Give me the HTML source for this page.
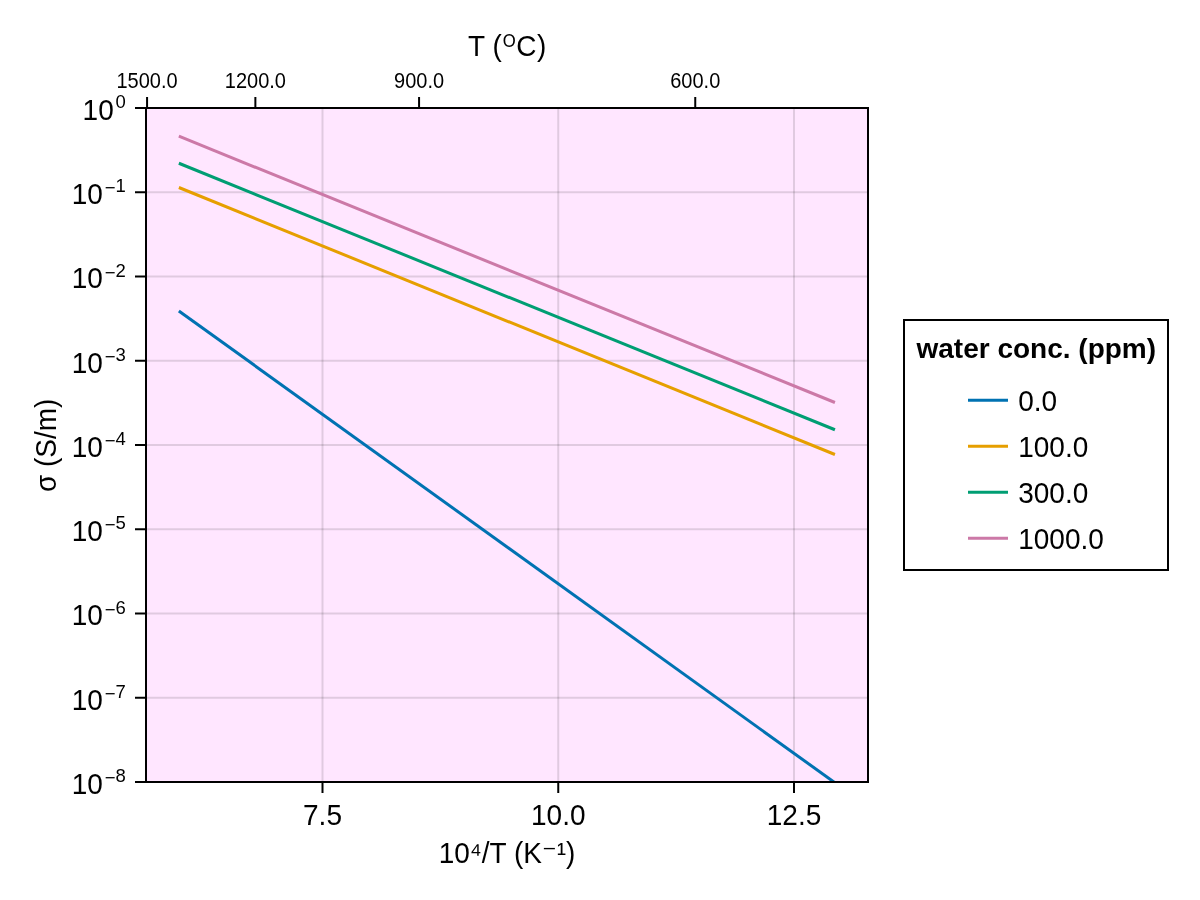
<!DOCTYPE html>
<html lang="en"><head><meta charset="utf-8"><title>conductivity</title>
<style>html,body{margin:0;padding:0;background:#fff}svg{display:block}text{font-family:"Liberation Sans","DejaVu Sans",sans-serif;fill:#000}</style>
</head><body>
<svg width="1200" height="900" viewBox="0 0 1200 900">
<rect x="0" y="0" width="1200" height="900" fill="#ffffff"/>
<rect x="146" y="108" width="722" height="674" fill="#ffe6ff"/>
<defs><clipPath id="c"><rect x="146" y="108" width="722" height="674"/></clipPath></defs>
<g stroke="#000" stroke-opacity="0.12" stroke-width="2" fill="none">
<line x1="322.50" y1="108" x2="322.50" y2="782"/>
<line x1="558.25" y1="108" x2="558.25" y2="782"/>
<line x1="794.00" y1="108" x2="794.00" y2="782"/>
<line x1="146" y1="108.00" x2="868" y2="108.00"/>
<line x1="146" y1="192.25" x2="868" y2="192.25"/>
<line x1="146" y1="276.50" x2="868" y2="276.50"/>
<line x1="146" y1="360.75" x2="868" y2="360.75"/>
<line x1="146" y1="445.00" x2="868" y2="445.00"/>
<line x1="146" y1="529.25" x2="868" y2="529.25"/>
<line x1="146" y1="613.50" x2="868" y2="613.50"/>
<line x1="146" y1="697.75" x2="868" y2="697.75"/>
<line x1="146" y1="782.00" x2="868" y2="782.00"/>
</g>
<g clip-path="url(#c)" fill="none" stroke-width="3" stroke-linecap="butt">
<line x1="178.86" y1="311.0" x2="834.94" y2="782.75" stroke="#0072b2"/>
<line x1="178.86" y1="187.5" x2="834.94" y2="454.5" stroke="#e69f00"/>
<line x1="178.86" y1="163.25" x2="834.94" y2="429.75" stroke="#009e73"/>
<line x1="178.86" y1="136.2" x2="834.94" y2="402.5" stroke="#cc79a7"/>
</g>
<rect x="146" y="108" width="722" height="674" fill="none" stroke="#000" stroke-width="2"/>
<g stroke="#000" stroke-width="2" fill="none">
<line x1="322.50" y1="783" x2="322.50" y2="793"/>
<line x1="558.25" y1="783" x2="558.25" y2="793"/>
<line x1="794.00" y1="783" x2="794.00" y2="793"/>
<line x1="135" y1="108.00" x2="145" y2="108.00"/>
<line x1="135" y1="192.25" x2="145" y2="192.25"/>
<line x1="135" y1="276.50" x2="145" y2="276.50"/>
<line x1="135" y1="360.75" x2="145" y2="360.75"/>
<line x1="135" y1="445.00" x2="145" y2="445.00"/>
<line x1="135" y1="529.25" x2="145" y2="529.25"/>
<line x1="135" y1="613.50" x2="145" y2="613.50"/>
<line x1="135" y1="697.75" x2="145" y2="697.75"/>
<line x1="135" y1="782.00" x2="145" y2="782.00"/>
<line x1="147.07" y1="97" x2="147.07" y2="107"/>
<line x1="255.37" y1="97" x2="255.37" y2="107"/>
<line x1="419.07" y1="97" x2="419.07" y2="107"/>
<line x1="695.25" y1="97" x2="695.25" y2="107"/>
</g>
<text transform="translate(322.50 824.80) scale(1 1.05)" font-size="28" text-anchor="middle">7.5</text>
<text transform="translate(558.25 824.80) scale(1 1.05)" font-size="28" text-anchor="middle">10.0</text>
<text transform="translate(794.00 824.80) scale(1 1.05)" font-size="28" text-anchor="middle">12.5</text>
<text transform="translate(147.07 87.80) scale(1 1.065)" font-size="20" text-anchor="middle">1500.0</text>
<text transform="translate(255.37 87.80) scale(1 1.065)" font-size="20" text-anchor="middle">1200.0</text>
<text transform="translate(419.07 87.80) scale(1 1.065)" font-size="20" text-anchor="middle">900.0</text>
<text transform="translate(695.25 87.80) scale(1 1.065)" font-size="20" text-anchor="middle">600.0</text>
<text transform="translate(113.70 119.90) scale(1 1.05)" font-size="28" text-anchor="end">10</text>
<text transform="translate(125.80 108.00)" font-size="18.5" text-anchor="end">0</text>
<text transform="translate(102.90 204.15) scale(1 1.05)" font-size="28" text-anchor="end">10</text>
<text transform="translate(125.80 192.25)" font-size="18.5" text-anchor="end"><tspan dy="2">−</tspan><tspan dy="-2">1</tspan></text>
<text transform="translate(102.90 288.40) scale(1 1.05)" font-size="28" text-anchor="end">10</text>
<text transform="translate(125.80 276.50)" font-size="18.5" text-anchor="end"><tspan dy="2">−</tspan><tspan dy="-2">2</tspan></text>
<text transform="translate(102.90 372.65) scale(1 1.05)" font-size="28" text-anchor="end">10</text>
<text transform="translate(125.80 360.75)" font-size="18.5" text-anchor="end"><tspan dy="2">−</tspan><tspan dy="-2">3</tspan></text>
<text transform="translate(102.90 456.90) scale(1 1.05)" font-size="28" text-anchor="end">10</text>
<text transform="translate(125.80 445.00)" font-size="18.5" text-anchor="end"><tspan dy="2">−</tspan><tspan dy="-2">4</tspan></text>
<text transform="translate(102.90 541.15) scale(1 1.05)" font-size="28" text-anchor="end">10</text>
<text transform="translate(125.80 529.25)" font-size="18.5" text-anchor="end"><tspan dy="2">−</tspan><tspan dy="-2">5</tspan></text>
<text transform="translate(102.90 625.40) scale(1 1.05)" font-size="28" text-anchor="end">10</text>
<text transform="translate(125.80 613.50)" font-size="18.5" text-anchor="end"><tspan dy="2">−</tspan><tspan dy="-2">6</tspan></text>
<text transform="translate(102.90 709.65) scale(1 1.05)" font-size="28" text-anchor="end">10</text>
<text transform="translate(125.80 697.75)" font-size="18.5" text-anchor="end"><tspan dy="2">−</tspan><tspan dy="-2">7</tspan></text>
<text transform="translate(102.90 793.90) scale(1 1.05)" font-size="28" text-anchor="end">10</text>
<text transform="translate(125.80 782.00)" font-size="18.5" text-anchor="end"><tspan dy="2">−</tspan><tspan dy="-2">8</tspan></text>
<text transform="translate(507.00 862.70) scale(1 1.035)" font-size="28" text-anchor="middle">10⁴/T (K<tspan dy="1.3">⁻</tspan><tspan dy="-1.3">¹)</tspan></text>
<text transform="translate(468.10 55.60) scale(1 1.035)" font-size="28" text-anchor="start">T (<tspan font-size="24.5" dy="-3" dx="1.1">ᴼ</tspan><tspan dy="3" dx="0.7">C</tspan><tspan dx="0.6">)</tspan></text>
<text transform="translate(56.10 445.30) rotate(-90) scale(1 1.035)" font-size="28" text-anchor="middle">σ (S/m)</text>
<rect x="904" y="320" width="264" height="250" fill="#fff" stroke="#000" stroke-width="2"/>
<text transform="translate(1036.30 358.00)" font-size="28" text-anchor="middle" font-weight="bold">water conc. (ppm)</text>
<line x1="968" y1="400.3" x2="1008" y2="400.3" stroke="#0072b2" stroke-width="3"/>
<text transform="translate(1018.20 410.60) scale(1 1.05)" font-size="28" text-anchor="start">0.0</text>
<line x1="968" y1="446.3" x2="1008" y2="446.3" stroke="#e69f00" stroke-width="3"/>
<text transform="translate(1018.20 456.70) scale(1 1.05)" font-size="28" text-anchor="start">100.0</text>
<line x1="968" y1="492.3" x2="1008" y2="492.3" stroke="#009e73" stroke-width="3"/>
<text transform="translate(1018.20 502.80) scale(1 1.05)" font-size="28" text-anchor="start">300.0</text>
<line x1="968" y1="538.3" x2="1008" y2="538.3" stroke="#cc79a7" stroke-width="3"/>
<text transform="translate(1018.20 548.90) scale(1 1.05)" font-size="28" text-anchor="start">1000.0</text>
</svg>
</body></html>
